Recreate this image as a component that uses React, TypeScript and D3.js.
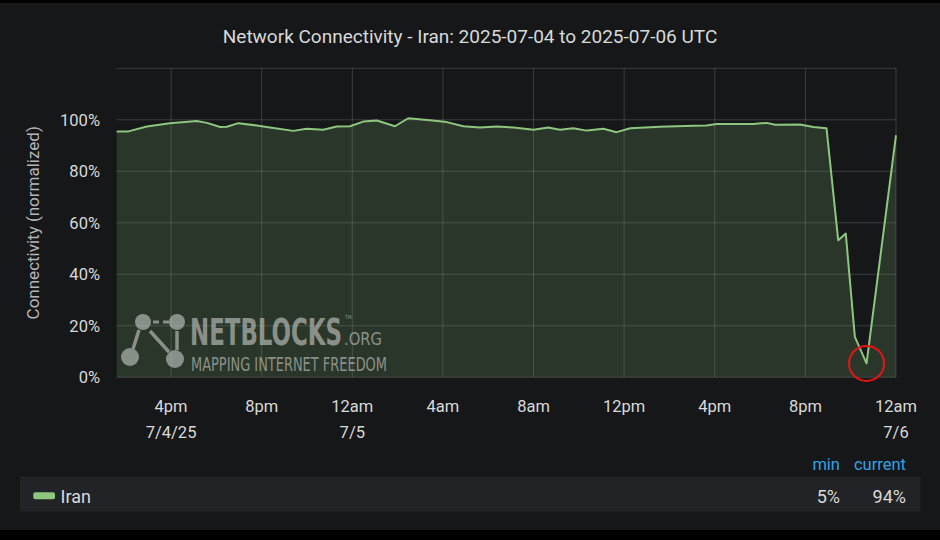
import React from "react";
import * as d3 from "d3";

const times: string[] = [
  "2025-07-04T13:36", "2025-07-04T14:07", "2025-07-04T14:56", "2025-07-04T15:57",
  "2025-07-04T17:08", "2025-07-04T17:35", "2025-07-04T18:10", "2025-07-04T18:28",
  "2025-07-04T18:58", "2025-07-04T19:47", "2025-07-04T20:22", "2025-07-04T21:24",
  "2025-07-04T21:59", "2025-07-04T22:43", "2025-07-04T23:19", "2025-07-04T23:54",
  "2025-07-05T00:29", "2025-07-05T01:05", "2025-07-05T01:53", "2025-07-05T02:28",
  "2025-07-05T03:26", "2025-07-05T04:10", "2025-07-05T04:54", "2025-07-05T05:38",
  "2025-07-05T06:23", "2025-07-05T07:07", "2025-07-05T08:00", "2025-07-05T08:39",
  "2025-07-05T09:10", "2025-07-05T09:45", "2025-07-05T10:21", "2025-07-05T11:05",
  "2025-07-05T11:40", "2025-07-05T12:16", "2025-07-05T13:35", "2025-07-05T15:03",
  "2025-07-05T15:38", "2025-07-05T16:05", "2025-07-05T17:42", "2025-07-05T18:17",
  "2025-07-05T18:40", "2025-07-05T19:46", "2025-07-05T20:21", "2025-07-05T20:56",
  "2025-07-05T21:27", "2025-07-05T21:47", "2025-07-05T22:11", "2025-07-05T22:42",
  "2025-07-06T00:00",
];

const iranValues: number[] = [
  95.5, 95.5, 97.4, 98.7,
  99.5, 98.8, 97.2, 97.3,
  98.7, 97.8, 97.0, 95.7,
  96.5, 96.1, 97.4, 97.5,
  99.3, 99.7, 97.5, 100.6,
  99.8, 99.1, 97.5, 97.0,
  97.4, 97.0, 96.1, 97.0,
  96.1, 96.7, 95.8, 96.5,
  95.2, 96.7, 97.3, 97.7,
  97.8, 98.4, 98.4, 98.8,
  98.1, 98.2, 97.2, 96.7,
  53.2, 55.8, 15.7, 5.4,
  94.0,
];

const xTickTimes: string[] = [
  "2025-07-04T16:00", "2025-07-04T20:00", "2025-07-05T00:00", "2025-07-05T04:00",
  "2025-07-05T08:00", "2025-07-05T12:00", "2025-07-05T16:00", "2025-07-05T20:00",
  "2025-07-06T00:00",
];
const xTickLabels: string[] = ["4pm", "8pm", "12am", "4am", "8am", "12pm", "4pm", "8pm", "12am"];
const xTickDates: string[] = ["7/4/25", "", "7/5", "", "", "", "", "", "7/6"];
const yTicks: number[] = [0, 20, 40, 60, 80, 100];
const yGridTop = 120;

const seriesName = "Iran";
const title = "Network Connectivity - Iran: 2025-07-04 to 2025-07-06 UTC";
const yLabel = "Connectivity (normalized)";

const parse = d3.utcParse("%Y-%m-%dT%H:%M");

export default function App() {
  const W = 940, H = 540;
  const left = 116.7, right = 896, top = 68.3, bottom = 377.3;
  const data = times.map((t, i) => ({ t: parse(t) as Date, v: iranValues[i] }));

  const x = d3.scaleUtc()
    .domain([parse(times[0]) as Date, parse("2025-07-06T00:00") as Date])
    .range([left, right]);
  const y = d3.scaleLinear().domain([0, yGridTop]).range([bottom, top]);

  const line = d3.line<{ t: Date; v: number }>().x(d => x(d.t)).y(d => y(d.v));
  const area = d3.area<{ t: Date; v: number }>().x(d => x(d.t)).y0(y(0)).y1(d => y(d.v));

  const minV = d3.min(iranValues) as number;
  const minIdx = iranValues.indexOf(minV);
  const cur = iranValues[iranValues.length - 1];

  const font = "Roboto, 'Noto Sans', sans-serif";
  const text = "#d8d9da";
  const gridC = "rgba(255,255,255,0.16)";
  const green = "#8ec67f";

  const wm = { x: 115, y: 305 };
  const wmFill = "#c4c8c4";
  const condensed = "'DejaVu Sans Condensed', 'DejaVu Sans', sans-serif";
  const narrow = "'Liberation Sans Narrow', 'DejaVu Sans Condensed', sans-serif";

  return (
    <svg width={W} height={H} style={{ position: "absolute", left: 0, top: 0 }} fontFamily={font}>
      <rect x={0} y={0} width={W} height={H} fill="#000" />
      <rect x={0} y={3} width={W} height={527} fill="#161719" />

      <text x={470} y={43} textAnchor="middle" fill={text} fontSize={19}>{title}</text>

      {/* grid */}
      {[...yTicks, yGridTop].map(v => (
        <line key={"h" + v} x1={left} x2={right} y1={y(v)} y2={y(v)} stroke={gridC} strokeWidth={1} />
      ))}
      {xTickTimes.map(t => (
        <line key={"v" + t} x1={x(parse(t) as Date)} x2={x(parse(t) as Date)} y1={top} y2={bottom} stroke={gridC} strokeWidth={1} />
      ))}

      <path d={area(data) || ""} fill="#7eb26d" fillOpacity={0.2} />

      {/* watermark */}
      <g opacity={0.62} fill={wmFill} stroke={wmFill}>
        <line x1={wm.x + 28} y1={wm.y + 17} x2={wm.x + 62} y2={wm.y + 17} strokeWidth={3} strokeDasharray="6 4" />
        <line x1={wm.x + 24} y1={wm.y + 25} x2={wm.x + 18} y2={wm.y + 44} strokeWidth={3.5} />
        <line x1={wm.x + 35} y1={wm.y + 26} x2={wm.x + 54} y2={wm.y + 47} strokeWidth={3.5} />
        <line x1={wm.x + 62} y1={wm.y + 26} x2={wm.x + 62} y2={wm.y + 45} strokeWidth={3.5} />
        <circle cx={wm.x + 28} cy={wm.y + 17} r={8} stroke="none" />
        <circle cx={wm.x + 62} cy={wm.y + 17} r={8} stroke="none" />
        <circle cx={wm.x + 15} cy={wm.y + 52} r={9} stroke="none" />
        <circle cx={wm.x + 60} cy={wm.y + 54} r={9} stroke="none" />
        <text x={wm.x + 75} y={wm.y + 40} fontFamily={condensed} fontWeight="bold" fontSize={38} textLength={152} lengthAdjust="spacingAndGlyphs" stroke="none">NETBLOCKS</text>
        <text x={wm.x + 230} y={wm.y + 14} fontFamily={condensed} fontSize={5} stroke="none">TM</text>
        <text x={wm.x + 229} y={wm.y + 40} fontFamily={narrow} fontSize={17} textLength={38} lengthAdjust="spacingAndGlyphs" stroke="none">.ORG</text>
        <text x={wm.x + 76} y={wm.y + 65.5} fontFamily={narrow} fontSize={20} textLength={196} lengthAdjust="spacingAndGlyphs" stroke="none">MAPPING INTERNET FREEDOM</text>
      </g>

      <path d={line(data) || ""} fill="none" stroke={green} strokeWidth={2} strokeLinejoin="round" />

      {/* red annotation circle at minimum */}
      <circle cx={x(data[minIdx].t)} cy={y(data[minIdx].v)} r={17.5} fill="none" stroke="#e31414" strokeWidth={2} />

      {/* y ticks */}
      {yTicks.map(v => (
        <text key={"yt" + v} x={100} y={y(v)} dy="0.35em" textAnchor="end" fill={text} fontSize={16.5}>{v}%</text>
      ))}
      <text transform={`translate(39,${(top + bottom) / 2}) rotate(-90)`} x={0} y={0} textAnchor="middle" fill="#b4b5b7" fontSize={17}>{yLabel}</text>

      {/* x ticks */}
      {xTickTimes.map((t, i) => (
        <g key={"xt" + i}>
          <text x={x(parse(t) as Date)} y={412} textAnchor="middle" fill={text} fontSize={16.5}>{xTickLabels[i]}</text>
          {xTickDates[i] && (
            <text x={x(parse(t) as Date)} y={438} textAnchor="middle" fill={text} fontSize={16.5}>{xTickDates[i]}</text>
          )}
        </g>
      ))}

      {/* legend */}
      <text x={840} y={469.5} textAnchor="end" fill="#33a2e5" fontSize={16.5}>min</text>
      <text x={906} y={469.5} textAnchor="end" fill="#33a2e5" fontSize={16.5}>current</text>
      <rect x={20} y={476.7} width={900.5} height={35} fill="#222326" />
      <rect x={33.3} y={492.3} width={21.7} height={7} rx={2} fill={green} />
      <text x={60.5} y={502.5} fill={text} fontSize={18}>{seriesName}</text>
      <text x={840} y={502.5} textAnchor="end" fill={text} fontSize={18}>{Math.round(minV)}%</text>
      <text x={906} y={502.5} textAnchor="end" fill={text} fontSize={18}>{Math.round(cur)}%</text>
    </svg>
  );
}
